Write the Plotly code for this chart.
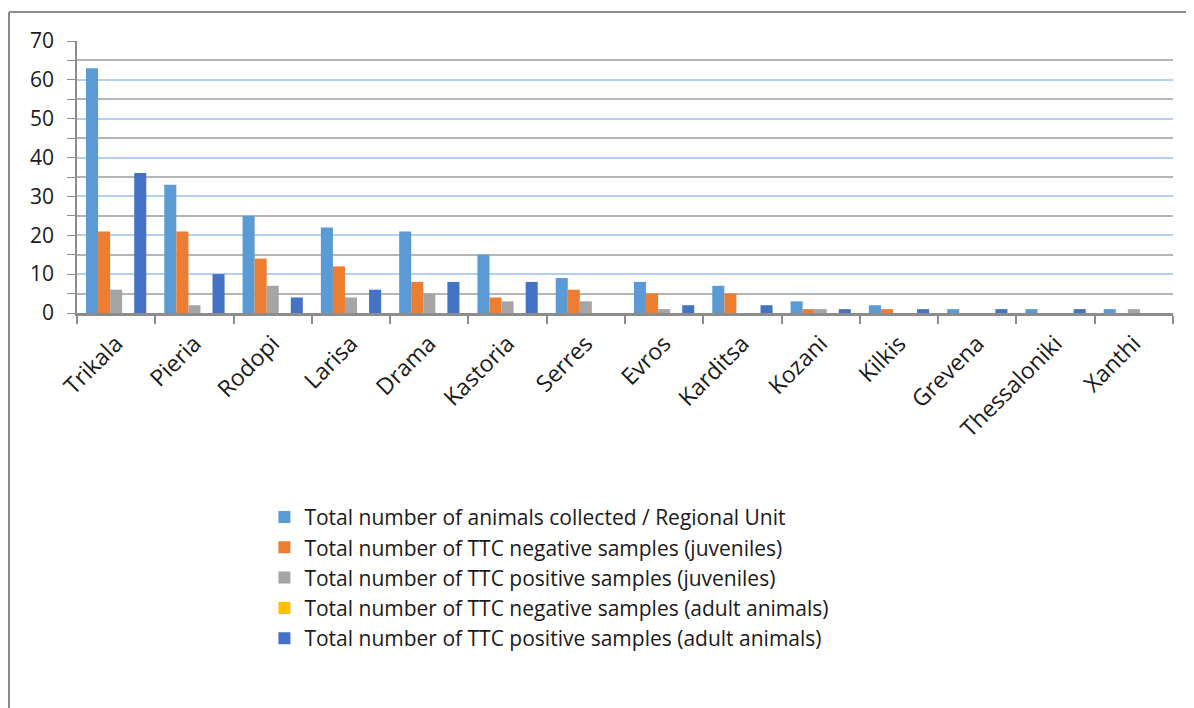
import plotly.graph_objects as go

# Regional units
regions = ["Trikala", "Pieria", "Rodopi", "Larisa", "Drama", "Kastoria", "Serres",
           "Evros", "Karditsa", "Kozani", "Kilkis", "Grevena", "Thessaloniki", "Xanthi"]

total_collected = [63, 33, 25, 22, 21, 15, 9, 8, 7, 3, 2, 1, 1, 1]
neg_juveniles = [21, 21, 14, 12, 8, 4, 6, 5, 5, 1, 1, 0, 0, 0]
pos_juveniles = [6, 2, 7, 4, 5, 3, 3, 1, 0, 1, 0, 0, 0, 1]
neg_adults = [0, 0, 0, 0, 0, 0, 0, 0, 0, 0, 0, 0, 0, 0]
pos_adults = [36, 10, 4, 6, 8, 8, 0, 2, 2, 1, 1, 1, 1, 0]

series = [
    ("Total number of animals collected / Regional Unit", total_collected, "#5B9BD5"),
    ("Total number of TTC negative samples (juveniles)", neg_juveniles, "#ED7D31"),
    ("Total number of TTC positive samples (juveniles)", pos_juveniles, "#A5A5A5"),
    ("Total number of TTC negative samples (adult animals)", neg_adults, "#FFC000"),
    ("Total number of TTC positive samples (adult animals)", pos_adults, "#4472C4"),
]

fig = go.Figure()
for name, vals, col in series:
    fig.add_trace(go.Bar(x=regions, y=vals, name=name, marker_color=col,
                         marker_line_width=0))

fig.update_layout(
    width=1194, height=708,
    paper_bgcolor="white", plot_bgcolor="white",
    font=dict(family="Open Sans", color="#1a1a1a", size=18),
    margin=dict(l=69, r=29, t=33, b=403),
    barmode="group", bargap=0.23, bargroupgap=0,
    legend=dict(orientation="v", x=0.171, y=-0.676, xanchor="left", yanchor="top",
                font=dict(size=21), itemwidth=30, tracegroupgap=0),
    xaxis=dict(tickangle=-45, ticks="outside", tickson="boundaries", ticklen=8,
               tickcolor="#8c8c8c", tickwidth=2, showgrid=False,
               showline=True, linecolor="#8c8c8c", linewidth=3,
               tickfont=dict(size=23), ticklabelstandoff=5, range=[-0.5, 13.5]),
    yaxis=dict(range=[0, 70], dtick=10, tickfont=dict(size=21),
               gridcolor="#b4d0f0", gridwidth=1.5,
               showline=True, linecolor="#8c8c8c", linewidth=1.5,
               ticks="outside", ticklen=8, tickcolor="#8c8c8c",
               ticklabelstandoff=9, zeroline=False,
               minor=dict(dtick=5, showgrid=True, gridcolor="#b5b5b5", gridwidth=1.5,
                          ticks="outside", ticklen=8, tickcolor="#8c8c8c")),
)

# Outer chart border (top and left edges)
fig.add_shape(type="line", xref="paper", yref="paper",
              x0=-68 / 1096, x1=1.2, y0=(305 - 4) / 272, y1=(305 - 4) / 272,
              line=dict(color="#8c8c8c", width=2))
fig.add_shape(type="line", xref="paper", yref="paper",
              x0=-68 / 1096, x1=-68 / 1096, y0=(305 - 4) / 272, y1=-2,
              line=dict(color="#8c8c8c", width=2))

fig.write_html("out.html")
